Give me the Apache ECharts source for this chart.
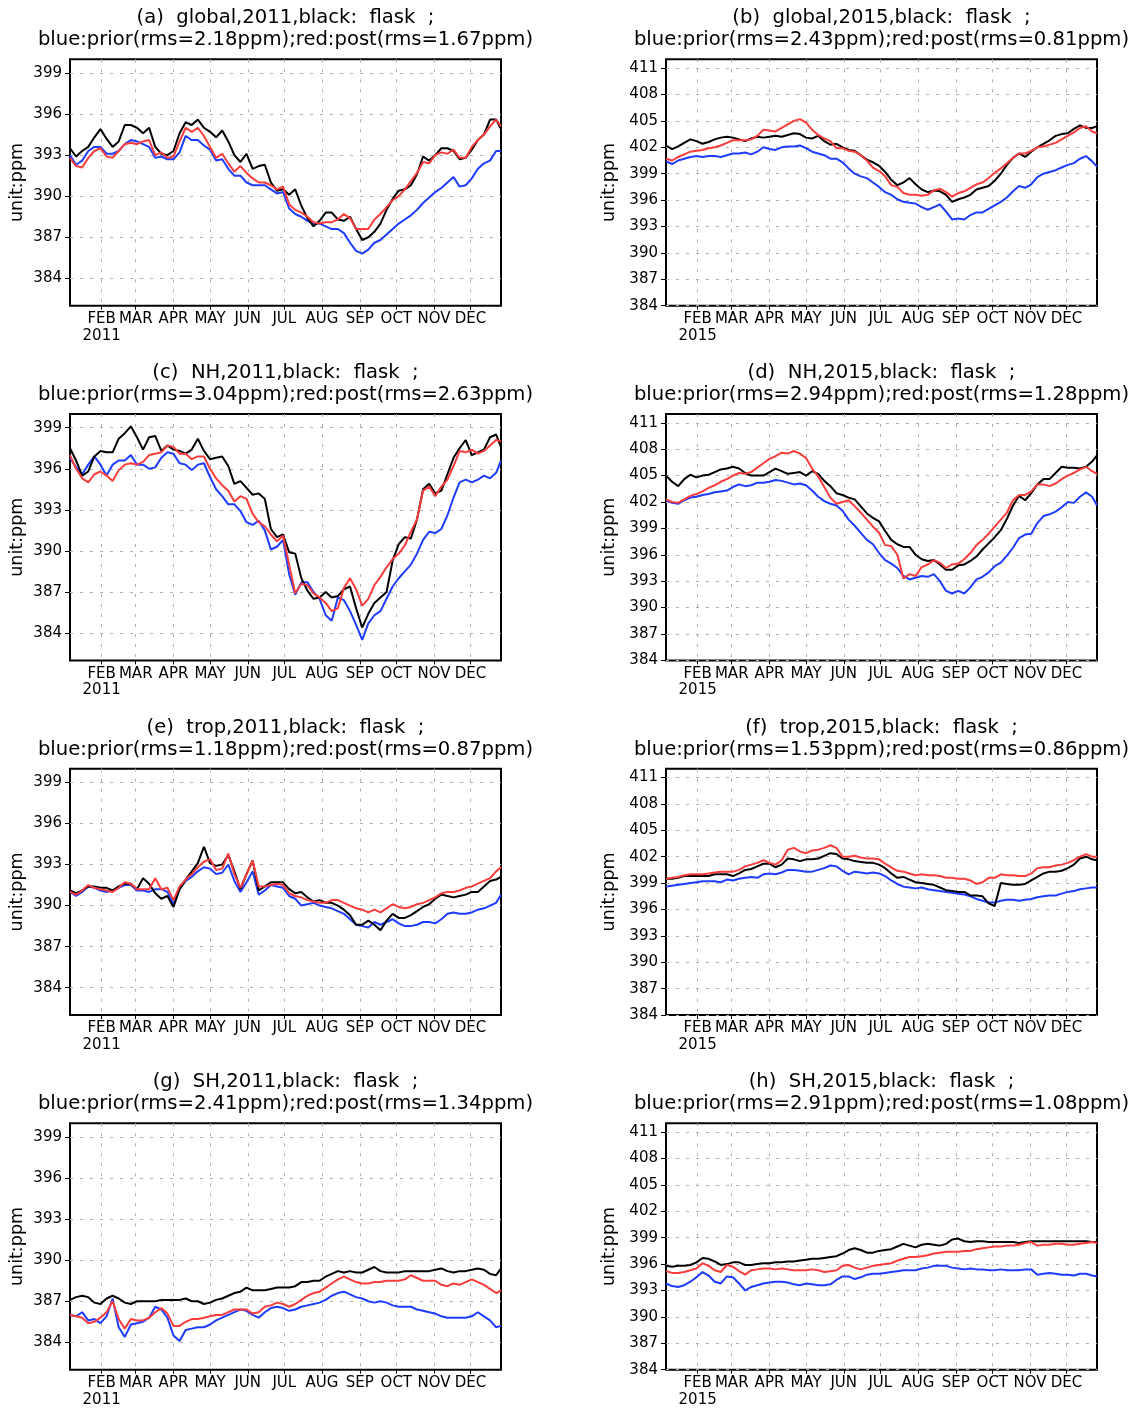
<!DOCTYPE html>
<html>
<head>
<meta charset="utf-8">
<title>Flask vs prior/posterior CO2</title>
<script src="https://cdn.jsdelivr.net/npm/echarts@6/dist/echarts.min.js"></script>
<style>
  html, body { margin: 0; padding: 0; background: #ffffff; }
  #chart { width: 1133px; height: 1408px; }
</style>
</head>
<body>
<div id="chart"></div>
<script>
// Day of year (0 = 1 Jan) for every sample
const days = [5,10,15,20,25,30,35,40,45,50,
  55,60,65,70,75,80,85,90,95,100,
  105,110,115,120,125,130,135,140,145,150,
  155,160,165,170,175,180,185,190,195,200,
  205,210,215,220,225,230,235,240,245,250,
  255,260,265,270,275,280,285,290,295,300,
  305,310,315,320,325,330,335,340,345,350,
  355,359];

// First day of each month shown on the time axis, and its label
const monthStarts = [31,59,90,120,151,181,212,243,273,304,334];
const monthNames = ['FEB','MAR','APR','MAY','JUN','JUL','AUG','SEP','OCT','NOV','DEC'];

// y tick labels
const yTicks2011 = [384,387,390,393,396,399];
const yTicks2015 = [384,387,390,393,396,399,402,405,408,411];

// (a) global 2011
const globalFlask2011 = [393.5,392.9,393.3,393.6,394.3,394.9,394.2,393.6,394.0,395.2,
  395.2,395.0,394.6,395.0,393.6,393.1,393.0,393.3,394.6,395.4,
  395.2,395.6,395.0,394.7,394.3,394.8,394.0,393.0,392.5,393.1,
  392.0,392.2,392.3,391.0,390.4,390.5,390.1,390.5,389.3,388.4,
  387.8,388.2,388.8,388.8,388.3,388.2,388.5,387.6,386.8,387.0,
  387.4,388.0,389.0,389.8,390.4,390.5,390.8,391.6,392.9,392.6,
  393.0,393.5,393.5,393.3,392.7,392.8,393.4,394.1,394.5,395.6,
  395.6,394.9];
const globalPost2011 = [392.8,392.2,392.1,392.8,393.3,393.5,392.9,392.8,393.3,393.8,
  393.9,393.8,394.0,394.1,393.0,393.2,392.8,392.9,394.0,395.0,
  394.7,395.0,394.4,393.6,392.8,393.1,392.4,391.8,392.2,391.7,
  391.3,391.0,391.0,390.8,390.5,390.7,389.4,389.0,388.8,388.5,
  388.1,388.0,388.1,388.1,388.3,388.7,388.4,387.6,387.6,387.6,
  388.3,388.7,389.2,389.7,390.0,390.5,391.1,391.7,392.5,392.4,
  393.0,393.2,393.1,393.4,392.8,392.8,393.6,394.1,394.5,395.1,
  395.6,395.1];
const globalPrior2011 = [393.0,392.3,392.6,393.3,393.6,393.6,393.1,393.1,393.3,393.8,
  394.1,394.0,393.8,393.6,392.8,392.9,392.7,392.7,393.2,394.4,
  394.1,394.1,393.7,393.4,392.6,392.7,392.0,391.5,391.5,391.0,
  390.8,390.8,390.8,390.5,390.2,390.3,389.1,388.7,388.5,388.2,
  388.0,388.0,387.8,387.6,387.6,387.3,386.6,386.0,385.8,386.1,
  386.6,386.8,387.2,387.6,388.0,388.3,388.6,389.0,389.5,389.9,
  390.3,390.6,391.0,391.4,390.7,390.8,391.3,392.0,392.4,392.6,
  393.3,393.3];

// (b) global 2015
const globalFlask2015 = [402.2,401.8,402.1,402.5,402.9,402.7,402.4,402.6,402.9,403.1,
  403.2,403.1,402.9,402.7,403.0,403.2,403.1,403.2,403.3,403.2,
  403.4,403.6,403.5,403.1,403.0,403.3,402.7,402.3,402.4,402.0,
  401.7,401.6,401.1,400.6,400.3,399.9,399.2,398.3,397.7,398.0,
  398.5,397.8,397.2,396.9,397.1,397.0,396.6,395.8,396.1,396.3,
  396.6,397.2,397.4,397.6,398.2,399.0,400.0,400.8,401.3,400.9,
  401.5,402.0,402.4,402.8,403.3,403.5,403.6,404.1,404.5,404.2,
  404.2,404.4];
const globalPost2015 = [400.7,400.5,400.9,401.2,401.5,401.6,401.7,401.9,402.0,402.2,
  402.5,402.8,402.8,402.8,402.9,403.3,404.0,403.9,403.8,404.2,
  404.6,405.0,405.2,404.8,404.0,403.4,403.0,402.7,401.9,401.9,
  401.6,401.5,401.1,400.5,399.7,399.3,398.7,397.7,397.5,396.8,
  396.6,396.6,396.5,396.6,397.1,397.3,396.9,396.4,396.8,397.0,
  397.4,397.8,398.0,398.5,399.1,399.6,400.2,400.8,401.3,401.3,
  401.6,402.0,402.1,402.3,402.5,402.9,403.3,403.7,404.2,404.4,
  403.8,403.6];
const globalPrior2015 = [400.4,400.1,400.5,400.7,400.9,401.0,400.9,401.0,401.0,400.9,
  401.1,401.3,401.3,401.4,401.2,401.5,402.0,401.8,401.7,402.0,
  402.1,402.1,402.2,401.9,401.5,401.3,401.1,400.7,400.7,400.3,
  399.6,399.0,398.7,398.5,398.0,397.5,396.9,396.6,396.1,395.8,
  395.7,395.6,395.2,394.9,395.2,395.5,394.7,393.8,393.9,393.8,
  394.3,394.6,394.6,395.0,395.4,395.8,396.3,397.0,397.6,397.4,
  397.8,398.6,399.0,399.2,399.4,399.7,400.0,400.2,400.7,401.0,
  400.4,399.8];

// (c) NH 2011
const nhFlask2011 = [397.5,396.6,395.5,395.8,396.9,397.3,397.2,397.2,398.2,398.6,
  399.1,398.3,397.4,398.3,398.4,397.3,397.7,397.4,397.3,397.1,
  397.4,398.2,397.3,396.7,396.8,396.9,396.2,394.9,395.1,394.6,
  394.1,394.2,393.8,391.6,391.0,391.2,389.9,389.8,388.0,387.1,
  386.5,386.6,387.0,386.6,386.7,387.2,387.4,385.8,384.4,385.4,
  386.2,386.6,387.0,389.3,390.5,391.0,390.9,392.3,394.5,394.9,
  394.2,394.4,395.6,396.8,397.5,398.1,397.0,397.2,397.4,398.3,
  398.5,397.6];
const nhPost2011 = [397.0,396.0,395.3,395.0,395.6,395.8,395.5,395.1,395.9,396.3,
  396.4,396.3,396.5,397.0,397.1,397.2,397.7,397.6,397.1,397.1,
  396.7,396.9,396.9,396.0,395.3,394.8,394.4,393.6,394.0,393.8,
  392.7,392.1,391.8,391.2,390.7,391.1,389.0,386.9,387.6,387.5,
  386.9,386.6,386.2,385.6,385.8,387.3,388.0,387.2,386.0,386.5,
  387.5,388.1,388.8,389.4,389.8,390.4,391.4,392.3,394.4,394.7,
  394.0,394.7,395.2,396.2,397.3,397.2,397.4,397.1,397.3,397.7,
  398.1,398.0];
const nhPrior2011 = [396.8,396.1,395.6,396.3,396.9,396.3,395.5,396.3,396.6,396.6,
  397.0,396.3,396.3,396.0,396.1,396.8,397.2,397.1,396.4,396.3,
  395.9,396.3,396.4,395.4,394.5,394.0,393.4,393.4,392.9,392.1,
  391.9,392.2,391.5,390.1,390.3,390.8,388.3,386.8,387.7,387.7,
  387.0,386.5,385.3,384.9,386.6,386.4,385.6,384.6,383.5,384.7,
  385.3,385.6,386.5,387.4,388.0,388.5,389.0,389.8,390.8,391.4,
  391.3,391.6,392.6,393.9,395.0,395.2,395.0,395.2,395.5,395.3,
  395.7,396.6];

// (d) NH 2015
const nhFlask2015 = [405.0,404.3,403.8,404.6,405.1,404.8,405.0,405.1,405.4,405.7,
  405.8,406.0,405.8,405.3,405.0,405.0,405.0,405.4,405.8,405.5,
  405.2,405.3,405.4,405.0,405.5,405.2,404.4,403.8,403.0,402.8,
  402.5,402.3,401.5,400.7,400.2,399.8,398.7,397.7,397.2,396.9,
  396.9,396.0,395.5,395.3,395.4,394.9,394.3,394.3,394.8,394.9,
  395.3,395.8,396.6,397.3,398.0,398.8,400.1,401.6,402.7,402.2,
  403.0,404.0,404.6,404.6,405.3,406.0,405.9,405.9,405.8,406.0,
  406.6,407.3];
const nhPost2015 = [402.3,402.0,401.9,402.3,402.7,402.9,403.2,403.6,403.9,404.3,
  404.6,405.0,405.3,405.2,405.4,405.9,406.4,406.9,407.2,407.6,
  407.5,407.8,407.5,407.0,405.8,404.9,403.7,402.5,401.8,402.0,
  402.2,401.5,400.8,400.0,399.2,398.5,397.1,397.0,396.0,393.3,
  393.8,393.6,394.6,394.9,395.4,395.1,394.5,394.9,395.0,395.5,
  396.2,397.1,397.7,398.4,399.2,400.0,400.8,402.2,402.8,402.8,
  403.2,404.0,404.0,403.8,404.1,404.6,405.0,405.3,405.7,406.0,
  405.5,405.2];
const nhPrior2015 = [402.2,401.9,401.8,402.2,402.5,402.6,402.8,402.9,403.1,403.2,
  403.3,403.7,404.0,403.8,403.9,404.2,404.2,404.3,404.5,404.4,
  404.2,404.0,404.1,403.9,403.3,402.6,402.1,401.8,401.6,401.0,
  400.0,399.3,398.5,397.7,397.2,396.2,395.4,395.0,394.5,393.6,
  393.2,393.4,393.6,393.5,393.8,393.0,391.9,391.6,391.9,391.6,
  392.3,393.2,393.5,394.0,394.7,395.1,395.9,396.8,397.9,398.3,
  398.4,399.6,400.4,400.6,400.9,401.4,402.0,401.9,402.6,403.1,
  402.6,401.6];

// (e) tropics 2011
const tropFlask2011 = [391.1,390.9,391.1,391.4,391.4,391.3,391.3,391.1,391.4,391.6,
  391.6,391.2,392.0,391.6,390.9,390.5,390.7,389.9,391.2,391.9,
  392.5,393.1,394.3,393.1,392.9,393.0,393.7,392.5,391.2,392.3,
  393.3,391.1,391.4,391.7,391.7,391.7,391.2,390.9,391.0,390.6,
  390.3,390.4,390.2,390.2,390.0,389.7,389.3,388.6,388.6,388.9,
  388.6,388.2,388.9,389.4,389.1,389.1,389.3,389.6,389.9,390.1,
  390.5,390.8,390.7,390.6,390.7,390.8,391.0,391.0,391.4,391.8,
  391.9,392.1];
const tropPost2011 = [391.0,390.8,391.1,391.5,391.3,391.2,391.1,391.0,391.3,391.7,
  391.6,391.2,391.2,391.2,392.0,391.2,391.3,390.4,391.4,391.9,
  392.3,392.8,393.2,393.4,392.6,392.7,393.8,392.3,391.3,392.3,
  393.3,391.4,391.4,391.5,391.6,391.5,390.9,390.7,390.6,390.4,
  390.3,390.2,390.2,390.4,390.4,390.2,390.0,389.8,389.7,389.5,
  389.7,389.5,389.8,390.1,389.9,389.8,389.9,390.1,390.2,390.4,
  390.6,390.9,391.0,391.0,391.1,391.3,391.4,391.6,391.8,392.0,
  392.5,392.8];
const tropPrior2011 = [391.0,390.7,391.0,391.4,391.3,391.1,391.0,391.1,391.3,391.5,
  391.5,391.1,391.1,391.0,391.2,391.2,391.0,390.1,391.2,391.8,
  392.1,392.5,392.8,392.7,392.3,392.4,393.0,391.8,391.0,391.7,
  392.5,390.8,391.1,391.5,391.4,391.3,390.7,390.5,390.0,390.1,
  390.2,390.0,389.9,389.8,389.6,389.4,389.0,388.6,388.5,388.4,
  388.8,388.6,388.8,389.0,388.7,388.5,388.5,388.6,388.8,388.8,
  388.7,389.0,389.4,389.5,389.4,389.4,389.5,389.7,389.8,390.0,
  390.2,390.8];

// (f) tropics 2015
const tropFlask2015 = [399.5,399.5,399.6,399.8,399.8,399.8,399.8,399.8,400.0,400.0,
  400.0,399.8,400.1,400.5,400.6,400.9,401.2,401.2,400.8,401.1,
  401.8,401.7,401.5,401.7,401.7,401.8,402.1,402.4,402.3,401.8,
  401.7,401.5,401.4,401.3,401.3,401.1,400.7,400.1,399.6,399.7,
  399.4,399.1,399.0,398.9,398.8,398.5,398.2,398.1,398.0,398.0,
  397.6,397.6,397.5,396.7,396.4,399.0,398.9,398.8,398.8,398.9,
  399.3,399.7,400.1,400.3,400.3,400.4,400.7,401.1,401.8,402.0,
  401.7,401.6];
const tropPost2015 = [399.5,399.6,399.7,399.9,400.0,400.0,400.0,400.1,400.2,400.3,
  400.3,400.3,400.5,400.9,401.1,401.3,401.6,401.3,401.1,401.6,
  402.8,403.0,402.6,402.4,402.7,402.8,403.0,403.3,403.0,402.0,
  402.0,402.1,401.9,401.8,401.8,401.7,401.2,400.8,400.4,400.3,
  400.1,399.9,400.0,399.9,399.9,399.8,399.6,399.6,399.5,399.5,
  399.3,398.9,399.1,399.6,399.6,400.0,399.9,399.9,399.8,399.8,
  400.1,400.7,400.8,400.8,401.0,401.1,401.3,401.6,402.0,402.3,
  402.0,402.0];
const tropPrior2015 = [398.6,398.7,398.8,398.9,399.0,399.1,399.2,399.2,399.2,399.1,
  399.4,399.3,399.5,399.6,399.7,399.6,400.0,400.1,400.0,400.2,
  400.5,400.5,400.4,400.3,400.3,400.5,400.7,401.0,400.9,400.4,
  400.0,400.3,400.2,400.1,400.2,400.1,399.8,399.3,398.9,398.6,
  398.5,398.4,398.5,398.3,398.2,398.1,398.0,397.9,397.8,397.7,
  397.5,397.2,397.0,396.8,396.8,397.0,397.1,397.1,397.0,397.1,
  397.2,397.4,397.5,397.6,397.6,397.8,398.0,398.1,398.3,398.4,
  398.5,398.5];

// (g) SH 2011
const shFlask2011 = [387.1,387.3,387.4,387.3,386.9,386.8,387.2,387.4,387.2,386.9,
  386.8,387.0,387.0,387.0,387.0,387.1,387.1,387.1,387.1,387.2,
  387.0,387.0,386.8,386.9,387.1,387.2,387.4,387.6,387.7,388.0,
  387.8,387.8,387.8,387.9,388.0,388.0,388.0,388.1,388.4,388.4,
  388.5,388.5,388.8,389.0,389.2,389.1,389.2,389.1,389.1,389.3,
  389.5,389.2,389.1,389.1,389.1,389.2,389.2,389.2,389.2,389.2,
  389.3,389.4,389.2,389.1,389.2,389.2,389.3,389.4,389.3,389.0,
  388.9,389.4];
const shPost2011 = [386.0,385.9,385.8,385.4,385.5,385.8,386.2,387.0,385.7,385.0,
  385.7,385.6,385.6,385.8,386.2,386.5,386.1,385.2,385.2,385.5,
  385.7,385.7,385.8,385.9,386.0,386.0,386.2,386.4,386.4,386.4,
  386.1,386.2,386.6,386.7,386.9,386.8,386.6,386.8,387.1,387.4,
  387.6,387.7,388.0,388.3,388.6,388.8,388.6,388.4,388.3,388.3,
  388.4,388.4,388.5,388.5,388.5,388.6,388.9,388.7,388.5,388.5,
  388.5,388.2,388.1,388.3,388.2,388.4,388.6,388.4,388.2,387.9,
  387.6,387.8];
const shPrior2011 = [386.0,385.9,386.2,385.6,385.7,385.4,385.9,387.2,385.1,384.4,
  385.3,385.4,385.5,385.8,386.6,386.4,385.8,384.5,384.1,384.9,
  385.0,385.1,385.1,385.3,385.6,385.8,386.0,386.2,386.4,386.3,
  386.0,385.8,386.2,386.5,386.6,386.5,386.3,386.4,386.6,386.7,
  386.8,386.9,387.1,387.4,387.6,387.7,387.5,387.3,387.2,387.0,
  386.9,387.0,386.9,386.7,386.6,386.6,386.6,386.4,386.3,386.2,
  386.1,385.9,385.8,385.8,385.8,385.8,385.9,386.2,385.9,385.6,
  385.1,385.2];

// (h) SH 2015
const shFlask2015 = [395.8,395.7,395.8,395.8,395.9,396.2,396.7,396.6,396.3,395.9,
  396.0,396.2,396.2,395.9,395.9,396.0,396.1,396.1,396.2,396.2,
  396.3,396.3,396.4,396.5,396.6,396.6,396.7,396.8,396.9,397.2,
  397.6,397.8,397.6,397.3,397.3,397.5,397.6,397.7,398.0,398.3,
  398.1,397.9,398.2,398.3,398.2,398.1,398.3,398.8,398.9,398.6,
  398.5,398.6,398.6,398.5,398.5,398.5,398.5,398.5,398.4,398.5,
  398.6,398.6,398.6,398.6,398.6,398.6,398.6,398.6,398.6,398.6,
  398.5,398.5];
const shPost2015 = [395.2,395.0,395.0,395.1,395.3,395.5,396.1,395.8,395.3,395.1,
  395.9,395.7,395.2,394.8,395.3,395.4,395.5,395.5,395.4,395.5,
  395.4,395.3,395.3,395.3,395.4,395.3,395.1,395.2,395.3,395.8,
  395.9,395.6,395.4,395.6,395.8,395.9,396.0,396.1,396.4,396.6,
  396.8,396.8,396.9,397.0,397.2,397.3,397.4,397.4,397.4,397.5,
  397.5,397.7,397.8,397.9,398.0,398.0,398.1,398.1,398.2,398.4,
  398.5,398.1,398.2,398.2,398.3,398.3,398.2,398.2,398.3,398.4,
  398.5,398.4];
const shPrior2015 = [393.8,393.5,393.4,393.6,394.0,394.5,395.1,394.7,394.0,393.8,
  394.6,394.5,393.8,393.0,393.4,393.6,393.8,393.9,394.0,394.0,
  393.9,393.7,393.6,393.8,393.7,393.6,393.6,393.7,394.2,394.6,
  394.6,394.3,394.5,394.8,394.9,394.9,395.0,395.1,395.2,395.3,
  395.3,395.3,395.5,395.6,395.8,395.8,395.8,395.6,395.5,395.4,
  395.5,395.4,395.4,395.3,395.3,395.4,395.3,395.3,395.3,395.4,
  395.4,394.8,394.9,395.0,394.9,394.8,394.8,394.7,394.9,394.9,
  394.7,394.6];

// Panel captions
const panelTags = ['(a)','(b)','(c)','(d)','(e)','(f)','(g)','(h)'];
const panelRegions = ['global','global','NH','NH','trop','trop','SH','SH'];
const panelYears = [2011,2015,2011,2015,2011,2015,2011,2015];
const rmsPrior = ['2.18','2.43','3.04','2.94','1.18','1.53','2.41','2.91'];
const rmsPost = ['1.67','0.81','2.63','1.28','0.87','0.86','1.34','1.08'];

const flaskSeries = [globalFlask2011, globalFlask2015, nhFlask2011, nhFlask2015,
  tropFlask2011, tropFlask2015, shFlask2011, shFlask2015];
const priorSeries = [globalPrior2011, globalPrior2015, nhPrior2011, nhPrior2015,
  tropPrior2011, tropPrior2015, shPrior2011, shPrior2015];
const postSeries = [globalPost2011, globalPost2015, nhPost2011, nhPost2015,
  tropPost2011, tropPost2015, shPost2011, shPost2015];

// ---- layout & styling ----
const FONT = '"DejaVu Sans", "Liberation Sans", sans-serif';
const COLOR_FLASK = '#000000';
const COLOR_PRIOR = '#1e3cff';
const COLOR_POST = '#fa3c3c';
const GRID_LINE = { color: '#b0b0b0', width: 1, type: [3, 7] };

const colLeft = [70, 666];
const rowTop = [59.3, 414, 768.7, 1123.3];
const boxW = 431;
const boxH = 246.4;

function pairUp(xs, ys) {
  return xs.map((x, k) => [x, ys[k]]);
}

const grids = [], xAxes = [], yAxes = [], titles = [], series = [];

for (let i = 0; i < 8; i++) {
  const col = i % 2, row = Math.floor(i / 2);
  const year = panelYears[i];
  const is2011 = year === 2011;
  const left = colLeft[col], top = rowTop[row];

  grids.push({
    left: left, top: top, width: boxW, height: boxH,
    show: true, borderColor: '#000', borderWidth: 2,
    backgroundColor: 'transparent'
  });

  titles.push({
    text: panelTags[i] + '  ' + panelRegions[i] + ',' + year + ',black:  flask  ;\n' +
          'blue:prior(rms=' + rmsPrior[i] + 'ppm);red:post(rms=' + rmsPost[i] + 'ppm)',
    left: left + boxW / 2,
    top: top - 52,
    textAlign: 'center',
    padding: 0,
    textStyle: { fontFamily: FONT, fontSize: 19.6, fontWeight: 'normal', lineHeight: 22, color: '#000' }
  });

  // month axis (index 2*i)
  xAxes.push({
    gridIndex: i, type: 'value', min: 5, max: 359, position: 'bottom',
    axisLine: { show: false },
    axisTick: { show: true, customValues: monthStarts, length: 4, lineStyle: { color: '#000', width: 1 } },
    axisLabel: {
      customValues: monthStarts, margin: 6, interval: 0, hideOverlap: false,
      showMinLabel: true, showMaxLabel: true,
      fontFamily: FONT, fontSize: 15, color: '#000',
      formatter: function (v) { return monthNames[monthStarts.indexOf(v)]; }
    },
    splitLine: { show: true, lineStyle: GRID_LINE }
  });
  // year line under the first month label (index 2*i+1)
  xAxes.push({
    gridIndex: i, type: 'value', min: 5, max: 359, position: 'bottom',
    axisLine: { show: false }, axisTick: { show: false }, splitLine: { show: false },
    axisLabel: {
      customValues: [monthStarts[0]], margin: 22.5, interval: 0, hideOverlap: false,
      showMinLabel: true, showMaxLabel: true,
      fontFamily: FONT, fontSize: 15, color: '#000',
      formatter: function () { return String(year); }
    }
  });

  const yt = is2011 ? yTicks2011 : yTicks2015;
  yAxes.push({
    gridIndex: i, type: 'value',
    min: is2011 ? 382 : 384, max: is2011 ? 400 : 412,
    axisLine: { show: false },
    axisTick: { show: true, customValues: yt, length: 5, lineStyle: { color: '#000', width: 1 } },
    axisLabel: {
      customValues: yt, margin: 8, interval: 0, hideOverlap: false,
      showMinLabel: true, showMaxLabel: true,
      fontFamily: FONT, fontSize: 15, color: '#000'
    },
    splitLine: { show: true, lineStyle: GRID_LINE },
    name: 'unit:ppm', nameLocation: 'middle', nameRotate: 90,
    nameGap: is2011 ? 44 : 48,
    nameTextStyle: { fontFamily: FONT, fontSize: 17.5, color: '#000' }
  });

  const lines = [
    { name: 'prior', data: priorSeries[i], color: COLOR_PRIOR, z: 2 },
    { name: 'flask', data: flaskSeries[i], color: COLOR_FLASK, z: 3 },
    { name: 'post', data: postSeries[i], color: COLOR_POST, z: 4 }
  ];
  lines.forEach(function (s) {
    if (s.data.length !== days.length) console.error('length mismatch', i, s.name, s.data.length);
    series.push({
      type: 'line', name: s.name, xAxisIndex: 2 * i, yAxisIndex: i,
      data: pairUp(days, s.data),
      showSymbol: false, symbol: 'none', smooth: false, silent: true,
      lineStyle: { color: s.color, width: 2 },
      itemStyle: { color: s.color },
      z: s.z
    });
  });
}

const chart = echarts.init(document.getElementById('chart'), null, { renderer: 'canvas' });
chart.setOption({
  backgroundColor: '#ffffff',
  animation: false,
  title: titles,
  grid: grids,
  xAxis: xAxes,
  yAxis: yAxes,
  series: series
});
</script>
</body>
</html>
